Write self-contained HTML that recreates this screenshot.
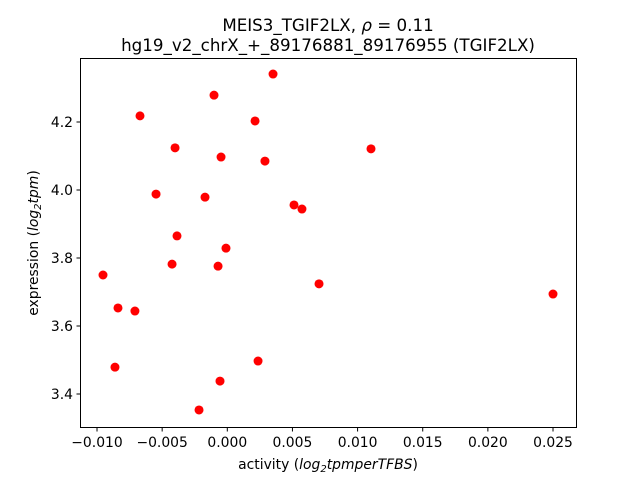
<!DOCTYPE html>
<html><head><meta charset="utf-8"><style>
body{margin:0;background:#fff;}
svg text{font-family:"DejaVu Sans","Liberation Sans",sans-serif;fill:#000;}
</style></head><body>
<svg width="640" height="480" id="chart">
<rect width="640" height="480" fill="#fff"/>
<text x="328" y="31" text-anchor="middle" font-size="16.7">MEIS3_TGIF2LX, <tspan font-style="italic">ρ</tspan> = 0.11</text>
<text x="328" y="51" text-anchor="middle" font-size="16.7">hg19_v2_chrX_+_89176881_89176955 (TGIF2LX)</text>
<g id="ticks"></g>
<g id="points"></g>
<rect x="80.5" y="58.5" width="496" height="369" fill="none" stroke="#000" stroke-width="1"/>
<text x="328" y="469" text-anchor="middle" font-size="13.9">activity (<tspan font-style="italic">log</tspan><tspan font-size="10" dy="3" font-style="italic">2</tspan><tspan dy="-3" font-style="italic">tpmperTFBS</tspan>)</text>
<text transform="translate(38,243) rotate(-90)" text-anchor="middle" font-size="13.9">expression (<tspan font-style="italic">log</tspan><tspan font-size="10" dy="3" font-style="italic">2</tspan><tspan dy="-3" font-style="italic">tpm</tspan>)</text>
</svg>
<script>
const xTicks=[-0.010,-0.005,0.000,0.005,0.010,0.015,0.020,0.025];
const xTickLabels=["−0.010","−0.005","0.000","0.005","0.010","0.015","0.020","0.025"];
const yTicks=[3.4,3.6,3.8,4.0,4.2];
const yTickLabels=["3.4","3.6","3.8","4.0","4.2"];
const activity=[0.00351,-0.00102,-0.0067,0.00213,-0.00401,0.01103,-0.00048,0.00289,-0.00547,-0.00171,0.00512,0.00573,-0.00386,-0.0001,-0.00424,-0.00071,-0.00954,0.00704,0.025,-0.00839,-0.00709,0.00236,-0.00862,-0.00056,-0.00217];
const expression=[4.341,4.279,4.218,4.203,4.124,4.121,4.097,4.085,3.988,3.979,3.956,3.944,3.865,3.829,3.782,3.776,3.75,3.724,3.694,3.653,3.644,3.497,3.479,3.438,3.353];
const NS="http://www.w3.org/2000/svg";
function sx(v){return 227.3+v*13028.6;}
function sy(v){return 394-(v-3.4)*340;}
const tg=document.getElementById('ticks');
xTicks.forEach((t,i)=>{
 const x=sx(t);
 const l=document.createElementNS(NS,'line');
 l.setAttribute('x1',x);l.setAttribute('x2',x);l.setAttribute('y1',427.5);l.setAttribute('y2',431.5);l.setAttribute('stroke','#000');
 
 
 tg.appendChild(l);
 const tx=document.createElementNS(NS,'text');
 tx.setAttribute('x',x);tx.setAttribute('y',447);tx.setAttribute('text-anchor','middle');tx.setAttribute('font-size','13.9');
 tx.textContent=xTickLabels[i];
 
 
 tg.appendChild(tx);
});
yTicks.forEach((t,i)=>{
 const y=sy(t);
 const l=document.createElementNS(NS,'line');
 l.setAttribute('x1',76.5);l.setAttribute('x2',80.5);l.setAttribute('y1',y);l.setAttribute('y2',y);l.setAttribute('stroke','#000');
 
 
 tg.appendChild(l);
 const tx=document.createElementNS(NS,'text');
 tx.setAttribute('x',73);tx.setAttribute('y',y+5);tx.setAttribute('text-anchor','end');tx.setAttribute('font-size','13.9');
 tx.textContent=yTickLabels[i];
 
 
 tg.appendChild(tx);
});
const pg=document.getElementById('points');
activity.forEach((a,i)=>{
 const c=document.createElementNS(NS,'circle');
 c.setAttribute('cx',sx(a));c.setAttribute('cy',sy(expression[i]));c.setAttribute('r',4.5);c.setAttribute('fill','#ff0000');
 
 
 pg.appendChild(c);
});
</script>
</body></html>
